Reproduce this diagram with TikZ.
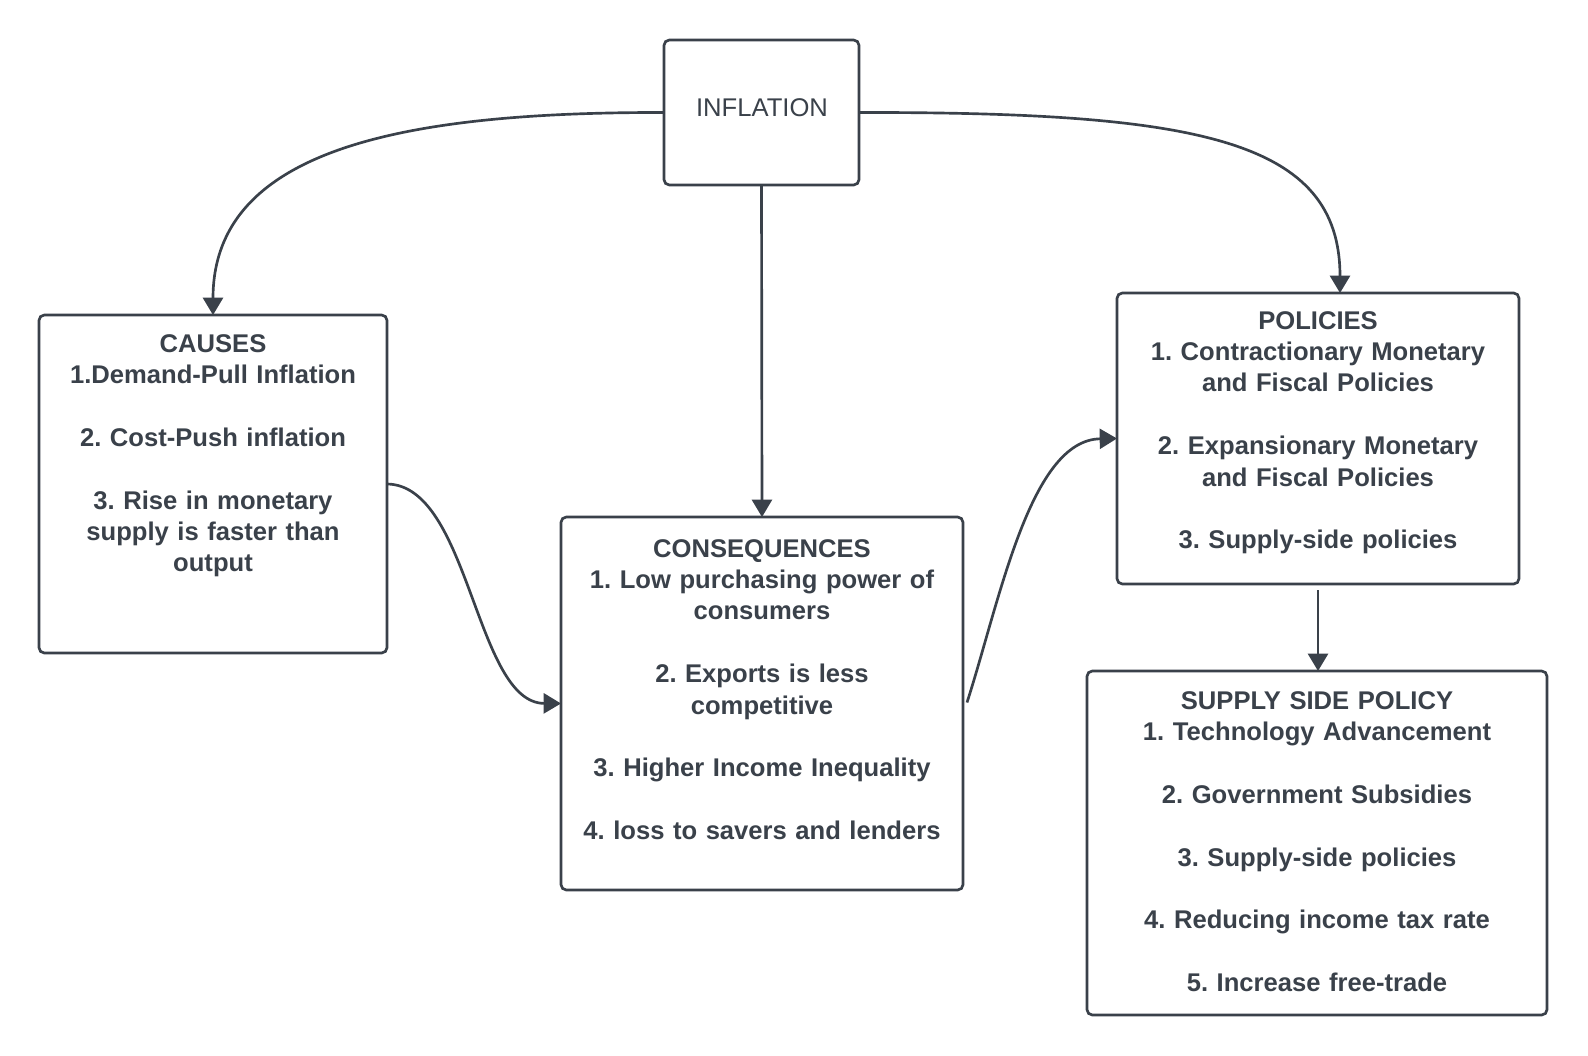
\documentclass[tikz,border=0pt]{standalone}
\usepackage{fontspec}
\setmainfont{Liberation Sans}
\usetikzlibrary{arrows.meta,calc}
\definecolor{ink}{HTML}{3A414A}
\newcommand\gap{\\[23.55pt]}
\frenchspacing
\begin{document}
\frenchspacing
\begin{tikzpicture}[x=0.75pt,y=-0.75pt,
  box/.style={draw=ink, line width=2pt, rounded corners=4pt, inner sep=0pt, outer sep=0pt},
  txt/.style={text=ink, inner sep=0pt, text width=360pt, align=center,
    font=\fontsize{19.2}{23.55}\selectfont\bfseries\frenchspacing},
  conn/.style={draw=ink, line width=2pt, -{Triangle[length=13pt,width=15pt]}}]
\fill[white] (0,0) rectangle (1588,1056);
\useasboundingbox (0,0) rectangle (1588,1056);
% boxes
\node[box, minimum width=146.25pt, minimum height=108.75pt] (inf) at (761.5,112.5) {};
\node[box, minimum width=261pt, minimum height=253.5pt] (causes) at (213,484) {};
\node[box, minimum width=301.5pt, minimum height=279.75pt] (cons) at (762,703.5) {};
\node[box, minimum width=301.5pt, minimum height=218.25pt] (pol) at (1318,438.5) {};
\node[box, minimum width=345pt, minimum height=258pt] (sup) at (1317,843) {};
% texts
\node[text=ink, inner sep=0pt, font=\fontsize{19.2}{23}\selectfont] (inft) at (762,108) {INFLATION};
\node[txt, anchor=base] (causest) at (213,352) {CAUSES\\1.Demand-Pull Inflation\gap 2. Cost-Push inflation\gap 3. Rise in monetary\\supply is faster than\\output};
\node[txt, anchor=base] (const) at (762,557) {CONSEQUENCES\\1. Low purchasing power of\\consumers\gap 2. Exports is less\\competitive\gap 3. Higher Income Inequality\gap 4. loss to savers and lenders};
\node[txt, anchor=base] (polt) at (1318,329) {POLICIES\\1. Contractionary Monetary\\and Fiscal Policies\gap 2. Expansionary Monetary\\and Fiscal Policies\gap 3. Supply-side policies};
\node[txt, anchor=base] (supt) at (1317,709) {SUPPLY SIDE POLICY\\1. Technology Advancement\gap 2. Government Subsidies\gap 3. Supply-side policies\gap 4. Reducing income tax rate\gap 5. Increase free-trade};
% connectors
\draw[conn] (inf.west) .. controls (400,112) and (213,150) .. (causes.north);
\draw[conn] (inf.east) .. controls (1200,112) and (1340,140) .. ($(pol.north)+(22,0)$);
\draw[conn] (inf.south) -- (cons.north);
\draw[conn] (causes.east) .. controls (470,485) and (475,703) .. (cons.west);
\draw[conn] ($(cons.east)+(4,-1)$) .. controls (1000,600) and (1030,440) .. (pol.west);
\draw[conn] ($(pol.south)+(0,6)$) -- (pol.south |- sup.north);
\end{tikzpicture}
\end{document}
